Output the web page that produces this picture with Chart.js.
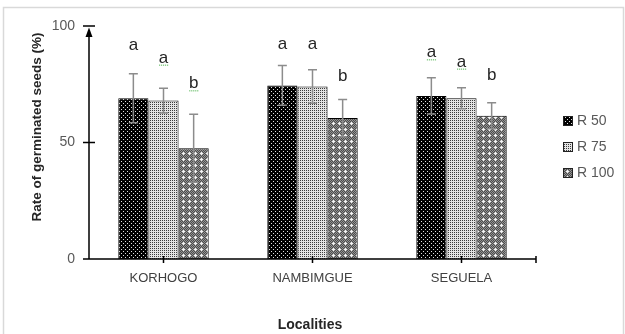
<!DOCTYPE html>
<html>
<head>
<meta charset="utf-8">
<script src="https://cdn.jsdelivr.net/npm/chart.js@4"></script>
<style>
  html, body { margin: 0; padding: 0; background: #fff; }
  #wrap { width: 625px; height: 334px; }
</style>
</head>
<body>
<div id="wrap"><canvas id="c" width="625" height="334"></canvas></div>
<script>
// Germination rate by locality and treatment
const localities = ['KORHOGO', 'NAMBIMGUE', 'SEGUELA'];
const seriesNames = ['R 50', 'R 75', 'R 100'];

const r50 = [69, 74.5, 70];
const r75 = [68, 74, 69];
const r100 = [47.5, 60.5, 61.5];

// standard deviations
const r50Err = [10.5, 8.5, 7.8];
const r75Err = [5.3, 7.2, 4.5];
const r100Err = [14.6, 8, 5.6];

// significance groups and the height (in %) of their baseline
const r50Groups = ['a', 'a', 'a'];
const r75Groups = ['a', 'a', 'a'];
const r100Groups = ['b', 'b', 'b'];
const r50GroupAt = [89.7, 90, 86.6];
const r75GroupAt = [84.3, 90, 82.6];
const r100GroupAt = [73.3, 76.5, 76.9];
// letters carrying the green dotted proofing mark
const r50Marked = [false, false, true];
const r75Marked = [true, false, true];
const r100Marked = [true, false, false];

const yTicks = [0, 50, 100];

const FONT = '"Liberation Sans", Arial, sans-serif';

function tile(w, h, paint) {
  const c = document.createElement('canvas');
  c.width = w; c.height = h;
  const g = c.getContext('2d');
  paint(g);
  return g.createPattern(c, 'repeat');
}

// dark fill with sparse white dots
const fillR50 = tile(4, 4, g => {
  g.fillStyle = '#000'; g.fillRect(0, 0, 4, 4);
  g.fillStyle = '#e0e0e0'; g.fillRect(1, 1, 1, 1); g.fillRect(3, 3, 1, 1);
});
// light fine stipple
const fillR75 = tile(2, 2, g => {
  g.fillStyle = '#e4e4e4'; g.fillRect(0, 0, 2, 2);
  g.fillStyle = '#3c3c3c'; g.fillRect(0, 0, 1, 1);
});
// mid grey with small white crosses
const fillR100 = tile(6, 6, g => {
  for (let x = 0; x < 6; x++) for (let y = 0; y < 6; y++) {
    g.fillStyle = (x + y) % 2 ? '#4c4c4c' : '#949494';
    g.fillRect(x, y, 1, 1);
  }
  g.fillStyle = '#f4f4f4';
  g.fillRect(3, 2, 1, 1); g.fillRect(2, 3, 3, 1); g.fillRect(3, 4, 1, 1);
});

const errs = [r50Err, r75Err, r100Err];
const groups = [r50Groups, r75Groups, r100Groups];
const groupAt = [r50GroupAt, r75GroupAt, r100GroupAt];
const marked = [r50Marked, r75Marked, r100Marked];
const fills = [fillR50, fillR75, fillR100];

const framePlugin = {
  id: 'frame',
  beforeDraw(chart) {
    const g = chart.ctx;
    g.save();
    g.strokeStyle = '#d9d9d9';
    g.lineWidth = 1.5;
    g.strokeRect(3.5, 7.5, 620, 340);
    g.restore();
  }
};

const errorBarPlugin = {
  id: 'errorBars',
  afterDatasetsDraw(chart) {
    const g = chart.ctx;
    const ys = chart.scales.y;
    g.save();
    g.strokeStyle = '#8c8c8c';
    g.lineWidth = 1.5;
    chart.data.datasets.forEach((ds, i) => {
      chart.getDatasetMeta(i).data.forEach((bar, j) => {
        const v = ds.data[j], e = errs[i][j];
        const top = ys.getPixelForValue(v + e);
        const bot = ys.getPixelForValue(v - e);
        g.beginPath();
        g.moveTo(bar.x, top); g.lineTo(bar.x, bot);
        g.moveTo(bar.x - 4.5, top); g.lineTo(bar.x + 4.5, top);
        g.moveTo(bar.x - 4.5, bot); g.lineTo(bar.x + 4.5, bot);
        g.stroke();
      });
    });
    g.restore();
  }
};

const groupLetterPlugin = {
  id: 'groupLetters',
  afterDatasetsDraw(chart) {
    const g = chart.ctx;
    const ys = chart.scales.y;
    g.save();
    g.font = '17px ' + FONT;
    g.textAlign = 'center';
    g.textBaseline = 'alphabetic';
    chart.data.datasets.forEach((ds, i) => {
      chart.getDatasetMeta(i).data.forEach((bar, j) => {
        const y = ys.getPixelForValue(groupAt[i][j]);
        g.fillStyle = '#262626';
        g.fillText(groups[i][j], bar.x, y);
        if (marked[i][j]) {
          g.fillStyle = '#74c274';
          for (let k = -4; k <= 4; k += 2) g.fillRect(bar.x + k - 0.5, y + 2, 1.2, 1.2);
        }
      });
    });
    g.restore();
  }
};

const axesPlugin = {
  id: 'axesArrow',
  afterDraw(chart) {
    const g = chart.ctx;
    const { left, right, top, bottom } = chart.chartArea;
    const xs = chart.scales.x, ys = chart.scales.y;
    g.save();
    g.strokeStyle = '#000';
    g.fillStyle = '#000';
    g.lineWidth = 1.5;
    g.beginPath();
    // horizontal axis
    g.moveTo(left - 6, bottom); g.lineTo(right, bottom);
    // vertical axis
    g.moveTo(left, bottom); g.lineTo(left, top + 4);
    // y tick marks
    yTicks.slice(1).forEach(t => {
      const y = ys.getPixelForValue(t);
      g.moveTo(left - 6, y); g.lineTo(left + 6, y);
    });
    // x tick marks
    localities.forEach((_, i) => {
      const x = xs.getPixelForValue(i);
      g.moveTo(x, bottom - 3); g.lineTo(x, bottom + 4);
    });
    g.moveTo(right, bottom - 3); g.lineTo(right, bottom + 4);
    g.stroke();
    // arrow head
    g.beginPath();
    g.moveTo(left, top + 1.5);
    g.lineTo(left - 3.5, top + 11);
    g.lineTo(left + 3.5, top + 11);
    g.closePath();
    g.fill();

    // axis titles
    g.fillStyle = '#262626';
    g.font = 'bold 14px ' + FONT;
    g.textAlign = 'center';
    g.textBaseline = 'middle';
    g.fillText('Localities', 310, 325);
    g.save();
    g.translate(37, 127);
    g.rotate(-Math.PI / 2);
    g.font = 'bold 13.5px ' + FONT;
    g.fillText('Rate of germinated seeds (%)', 0, 0);
    g.restore();

    // legend
    g.font = '14px ' + FONT;
    g.textAlign = 'left';
    g.textBaseline = 'middle';
    seriesNames.forEach((name, i) => {
      const cy = 121 + i * 26;
      g.fillStyle = fills[i];
      g.fillRect(563, cy - 5, 10, 10);
      g.strokeStyle = '#222';
      g.lineWidth = 1;
      g.strokeRect(563.5, cy - 4.5, 9, 9);
      g.fillStyle = '#595959';
      g.fillText(name, 577, cy);
    });
    g.restore();
  }
};

new Chart(document.getElementById('c'), {
  type: 'bar',
  data: {
    labels: localities,
    datasets: [
      { label: seriesNames[0], data: r50, backgroundColor: fillR50 },
      { label: seriesNames[1], data: r75, backgroundColor: fillR75 },
      { label: seriesNames[2], data: r100, backgroundColor: fillR100 }
    ].map(d => Object.assign(d, {
      borderColor: '#000', borderWidth: 1,
      categoryPercentage: 0.607, barPercentage: 1
    }))
  },
  options: {
    responsive: false,
    devicePixelRatio: 1,
    animation: false,
    layout: { padding: { top: 26, right: 89, left: 0, bottom: 0 } },
    plugins: { legend: { display: false }, tooltip: { enabled: false } },
    scales: {
      x: {
        offset: true,
        grid: { display: false, drawTicks: false },
        border: { display: false },
        ticks: { font: { family: FONT, size: 13 }, color: '#404040', padding: 12 },
        afterFit(s) { s.height = 75; }
      },
      y: {
        min: 0, max: 100,
        afterBuildTicks(s) { s.ticks = yTicks.map(v => ({ value: v })); },
        grid: { display: false, drawTicks: false },
        border: { display: false },
        ticks: { font: { family: FONT, size: 14 }, color: '#595959', padding: 14 },
        afterFit(s) { s.width = 89; }
      }
    }
  },
  plugins: [framePlugin, errorBarPlugin, groupLetterPlugin, axesPlugin]
});
</script>
</body>
</html>
